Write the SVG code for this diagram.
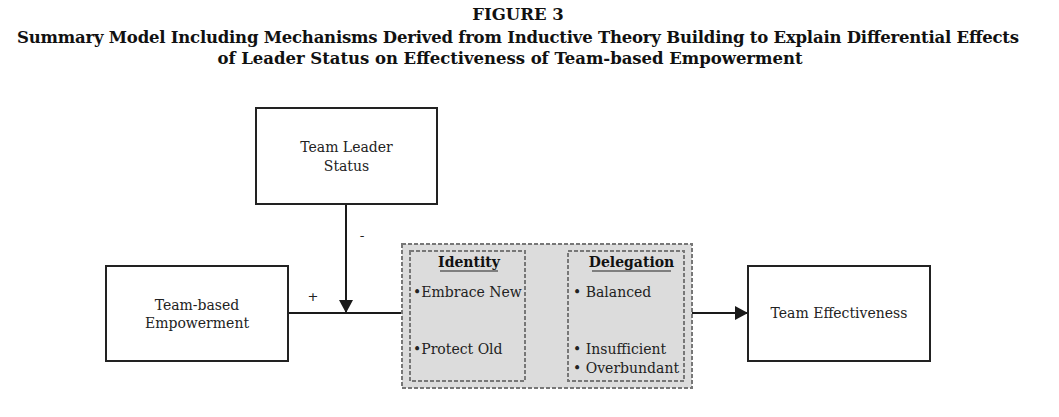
<svg xmlns="http://www.w3.org/2000/svg" width="1059" height="417" viewBox="0 0 1059 417">
  <style>
    .title { font-family: "DejaVu Serif", "Liberation Serif", serif; font-weight: bold; font-size: 16.5px; fill: #111; text-anchor: middle; }
    .label { font-family: "DejaVu Serif", "Liberation Serif", serif; font-size: 14px; fill: #222; text-anchor: middle; }
    .item { font-family: "DejaVu Serif", "Liberation Serif", serif; font-size: 14px; fill: #222; }
    .head { font-family: "DejaVu Serif", "Liberation Serif", serif; font-weight: bold; font-size: 14px; fill: #111; text-anchor: middle; }
    .sign { font-family: "DejaVu Sans", "Liberation Sans", sans-serif; font-size: 13px; fill: #222; text-anchor: middle; }
    .box { fill: #fff; stroke: #222; stroke-width: 2; }
    .group { fill: #dcdcdc; stroke: #777; stroke-width: 2; stroke-dasharray: 4 2; }
    .link { fill: none; stroke: #1a1a1a; stroke-width: 2; }
    .dlink { fill: none; stroke: #777; stroke-width: 1.6; stroke-dasharray: 4 3; }
  </style>
  <defs>
    <marker id="arrow" viewBox="0 0 13 14" refX="13" refY="7" markerWidth="13" markerHeight="14" markerUnits="userSpaceOnUse" orient="auto">
      <path d="M0,0 L13,7 L0,14 Z" fill="#1a1a1a"/>
    </marker>
    <marker id="arrowGrey" viewBox="0 0 8 8" refX="8" refY="4" markerWidth="8" markerHeight="8" markerUnits="userSpaceOnUse" orient="auto">
      <path d="M0,0 L8,4 L0,8 Z" fill="#777"/>
    </marker>
  </defs>

  <!-- Title block -->
  <g id="title">
    <text class="title" x="518" y="20">FIGURE 3</text>
    <text class="title" x="518" y="43" textLength="1002">Summary Model Including Mechanisms Derived from Inductive Theory Building to Explain Differential Effects</text>
    <text class="title" x="510" y="64" textLength="585">of Leader Status on Effectiveness of Team-based Empowerment</text>
  </g>

  <!-- Connectors -->
  <g id="connectors">
    <path class="link" d="M346,204 V313" marker-end="url(#arrow)"/>
    <path class="link" d="M288,313 H402"/>
    <path class="link" d="M692,313 H748" marker-end="url(#arrow)"/>
    <path class="dlink" d="M526,293 H568" marker-end="url(#arrowGrey)"/>
    <path class="dlink" d="M526,350 H568" marker-end="url(#arrowGrey)"/>
    <text class="sign" x="313" y="301">+</text>
    <text class="sign" x="362" y="240">-</text>
  </g>

  <!-- Moderator: team leader status -->
  <g id="node-leader-status">
    <rect class="box" x="256" y="108" width="181" height="96"/>
    <text class="label" x="346.5" y="152">Team Leader</text>
    <text class="label" x="346.5" y="171">Status</text>
  </g>

  <!-- Input: team-based empowerment -->
  <g id="node-empowerment">
    <rect class="box" x="106" y="266" width="182" height="95"/>
    <text class="label" x="197" y="310">Team-based</text>
    <text class="label" x="197" y="328">Empowerment</text>
  </g>

  <!-- Mechanisms: identity and delegation -->
  <g id="node-mechanisms">
    <rect class="group" x="402" y="244" width="290" height="144"/>
    <rect class="group" x="410" y="251" width="115" height="130"/>
    <rect class="group" x="568" y="251" width="116" height="130"/>
    <text class="head" x="469" y="267">Identity</text>
    <line x1="440" y1="271" x2="498" y2="271" stroke="#222" stroke-width="1.2"/>
    <text class="head" x="631.5" y="267">Delegation</text>
    <line x1="592" y1="271" x2="671" y2="271" stroke="#222" stroke-width="1.2"/>
    <text class="item" x="413" y="297">•Embrace New</text>
    <text class="item" x="413" y="354">•Protect Old</text>
    <text class="item" x="573" y="297">• Balanced</text>
    <text class="item" x="573" y="354">• Insufficient</text>
    <text class="item" x="573" y="373">• Overbundant</text>
  </g>

  <!-- Outcome: team effectiveness -->
  <g id="node-effectiveness">
    <rect class="box" x="748" y="266" width="182" height="95"/>
    <text class="label" x="839" y="318">Team Effectiveness</text>
  </g>
</svg>
